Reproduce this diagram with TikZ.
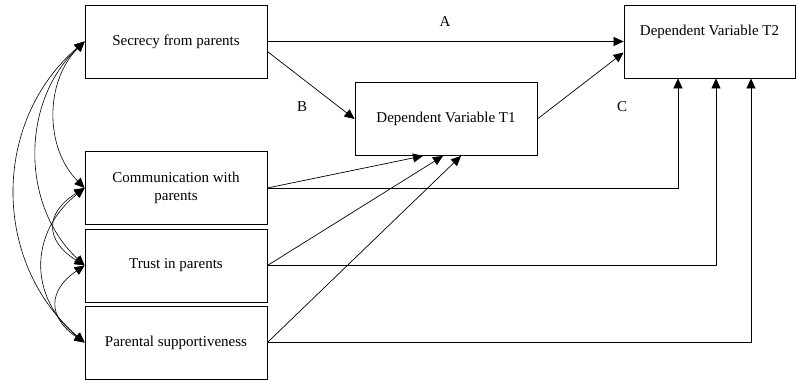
\documentclass[tikz,border=0pt]{standalone}
\usepackage{fontspec}
\setmainfont{Liberation Serif}
\usetikzlibrary{arrows.meta}

\begin{document}
\begin{tikzpicture}[x=1pt, y=-1pt, every node/.style={font=\fontsize{15}{18}\selectfont},
  varbox/.style={rectangle, draw=black, line width=0.8pt, minimum width=182pt, minimum height=73pt, inner sep=2pt, align=center},
  arr/.style={-{Triangle[length=10pt,width=9pt]}, line width=0.7pt},
  cov/.style={{Triangle[length=10pt,width=9pt]}-{Triangle[length=10pt,width=9pt]}, line width=0.6pt}]
\useasboundingbox (0,0) rectangle (796,380);
% Predictors
\node[varbox] (secr) at (176,41.5) {Secrecy from parents};
\node[varbox] (comm) at (176,188) {Communication with\\parents};
\node[varbox] (trust) at (176,265.5) {Trust in parents};
\node[varbox] (supp) at (176,342.5) {Parental supportiveness};
% Outcomes
\node[varbox] (dv1) at (446,119) {Dependent Variable T1};
\node[varbox, minimum width=171pt, text depth=23pt] (dv2) at (709.5,41.5) {Dependent Variable T2};
% Path labels
\node (lblA) at (445,22) {A};
\node (lblB) at (302,107) {B};
\node (lblC) at (622,107) {C};
% Paths A, B, C
\draw[arr] (secr.east) -- (dv2.west);
\draw[arr] ([yshift=-10pt]secr.east) -- (dv1.west);
\draw[arr] (dv1.east) -- ([yshift=-11pt]dv2.west);
% Controls to T1
\draw[arr] (comm.east) -- ([xshift=-23pt]dv1.south);
\draw[arr] (trust.east) -- ([xshift=-3pt]dv1.south);
\draw[arr] (supp.east) -- ([xshift=15pt]dv1.south);
% Controls to T2
\draw[arr] (comm.east) -| ([xshift=-31.5pt]dv2.south);
\draw[arr] (trust.east) -| ([xshift=6.5pt]dv2.south);
\draw[arr] (supp.east) -| ([xshift=41.5pt]dv2.south);
% Correlations
\draw[cov] (secr.west) .. controls +(-40,40) and +(-40,-40) .. (comm.west);
\draw[cov] (secr.west) .. controls +(-64,60) and +(-64,-60) .. (trust.west);
\draw[cov] (secr.west) .. controls +(-93,80) and +(-93,-80) .. (supp.west);
\draw[cov] (comm.west) .. controls +(-40,25) and +(-40,-25) .. (trust.west);
\draw[cov] (comm.west) .. controls +(-56,45) and +(-56,-45) .. (supp.west);
\draw[cov] (trust.west) .. controls +(-37,25) and +(-37,-25) .. (supp.west);
\end{tikzpicture}
\end{document}
